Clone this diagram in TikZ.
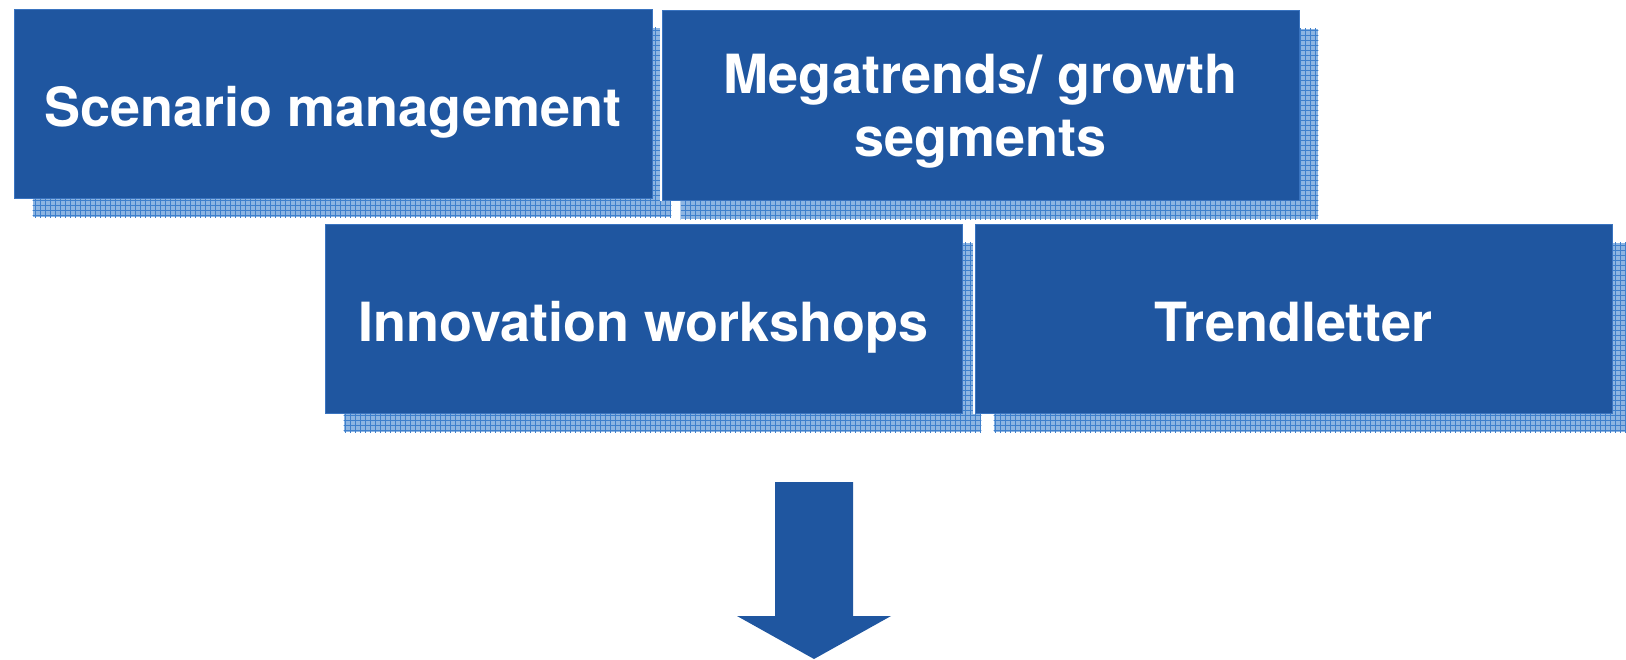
\documentclass[tikz,border=0pt]{standalone}
\usepackage{fontspec}
\setmainfont{TeX Gyre Heros}
\usetikzlibrary{backgrounds,calc}
\definecolor{boxblue}{HTML}{1F56A0}
\definecolor{shadelight}{HTML}{8DB5E2}
\definecolor{shadeline}{HTML}{3F80CC}
\definecolor{boxedge}{HTML}{3A74C0}
\tikzset{
  tile/.style={fill=boxblue, draw=boxedge, line width=0.4pt, text=white, align=center,
    inner sep=0pt, text height=28pt, text depth=5.5pt,
    font=\fontsize{27}{31.5}\selectfont\bfseries},
}
\newcommand{\gridshadow}[1]{%
  \begin{scope}
    \fill[shadelight] ($(#1.north west)+(19,19)$) rectangle ($(#1.south east)+(19,19)$);
    \clip ($(#1.north west)+(19,19)$) rectangle ($(#1.south east)+(19,19)$);
    \draw[shadeline, line width=0.4pt, step=2.5pt] ($(#1.north west)+(0,0)$) grid ($(#1.south east)+(40,40)$);
  \end{scope}}
\begin{document}
\begin{tikzpicture}[x=0.5pt,y=-0.5pt]
\useasboundingbox (0,0) rectangle (1626,659);
\node[tile, minimum width=638*0.5pt, minimum height=189*0.5pt] (b1) at (333,103.5) {Scenario management};
\node[tile, text height=56.5pt, text depth=5.5pt, minimum width=637*0.5pt, minimum height=190*0.5pt] (b2) at (980.5,105) {Megatrends/ growth\\segments};
\node[tile, minimum width=637*0.5pt, minimum height=189*0.5pt] (b3) at (643.5,318.5) {Innovation workshops};
\node[tile, minimum width=637*0.5pt, minimum height=189*0.5pt] (b4) at (1293.5,318.5) {Trendletter};
\begin{scope}[on background layer]
  \gridshadow{b1}
  \gridshadow{b2}
  \gridshadow{b3}
  \gridshadow{b4}
  \fill[white] ($(b4.north west)+(-2,-2)$) rectangle ($(b4.south east)+(1,1)$);
  \fill[white] ($(b2.north west)+(-2,-2)$) rectangle ($(b2.south east)+(1,1)$);
\end{scope}
\fill[boxblue] (775,482) -- (853,482) -- (853,616) -- (891,616) -- (814,659) -- (737,616) -- (775,616) -- cycle;
\end{tikzpicture}
\end{document}
